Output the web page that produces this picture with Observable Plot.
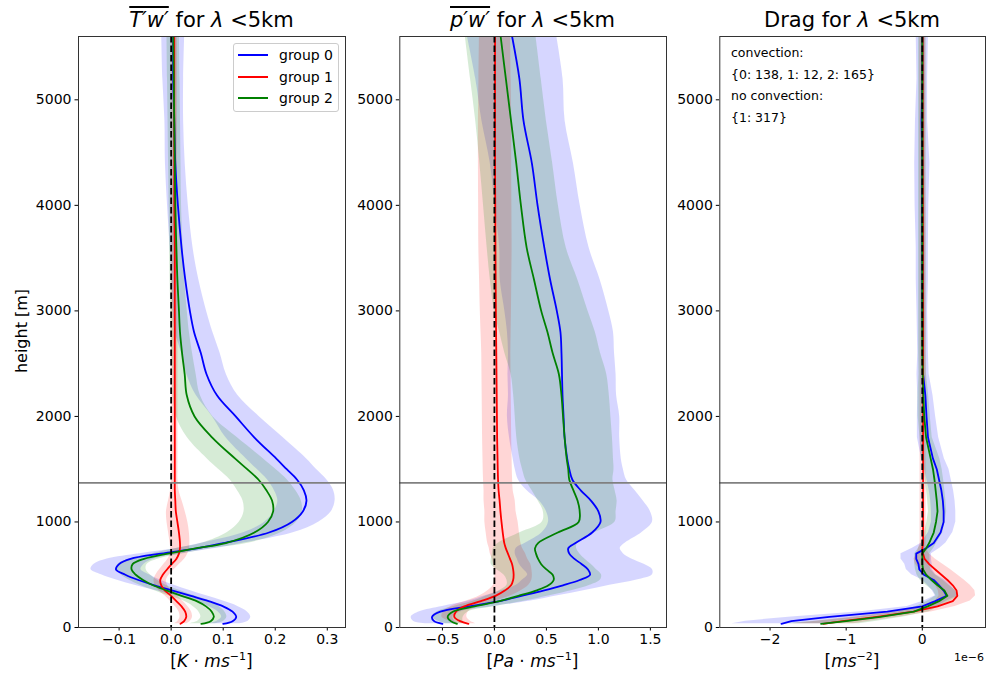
<!DOCTYPE html>
<html><head><meta charset="utf-8">
<script src="https://cdn.jsdelivr.net/npm/d3@7"></script>
<script src="https://cdn.jsdelivr.net/npm/@observablehq/plot@0.6"></script>
<style>
body{margin:0;background:#fff;font-family:"DejaVu Sans",sans-serif;}
#fig{position:relative;width:986px;height:673px;overflow:hidden;background:#fff;}
.abs{position:absolute;white-space:nowrap;line-height:1;color:#000;}
.panel{position:absolute;top:0;}
.title{font-size:21px;text-align:center;width:320px;}
.xl{font-size:17px;text-align:center;width:240px;}
.ov{text-decoration:overline;}
.legend{position:absolute;left:233px;top:43px;width:104px;height:67px;border:1px solid #cccccc;border-radius:3px;background:rgba(255,255,255,0.8);}
.lrow{position:absolute;left:4px;font-size:14px;line-height:1;white-space:nowrap;}
.lrow span.sw{display:inline-block;width:30px;height:0;border-top:2px solid;vertical-align:middle;margin-right:11px;position:relative;top:-1px;}
.ann{font-size:12.5px;}
</style></head><body><div id="fig"></div>
<script>
// ---------------- data ----------------
const heights = [35, 60, 100, 150, 200, 250, 300, 350, 400, 450,
  500, 550, 600, 650, 700, 750, 800, 900, 1000, 1100,
  1200, 1300, 1400, 1500, 1600, 1800, 2000, 2200, 2400, 2600,
  2800, 3000, 3300, 3600, 4000, 4400, 4800, 5200, 5600];

const groups = ["group 0", "group 1", "group 2"];
const groupColors = ["#0000ff", "#ff0000", "#008000"];

// Panel 1: T'w' [K m/s]
const tw_mean0 = [0.100, 0.118, 0.125, 0.118, 0.100, 0.072, 0.038, 0.003, -0.032, -0.063,
  -0.088, -0.106, -0.100, -0.078, -0.020, 0.050, 0.100, 0.188, 0.232, 0.253,
  0.260, 0.255, 0.242, 0.222, 0.202, 0.160, 0.124, 0.088, 0.068, 0.057,
  0.044, 0.036, 0.027, 0.020, 0.013, 0.008, 0.006, 0.004, 0.004];
const tw_sd0 = [0.030, 0.030, 0.028, 0.028, 0.028, 0.028, 0.030, 0.033, 0.038, 0.042,
  0.046, 0.048, 0.048, 0.045, 0.040, 0.038, 0.040, 0.048, 0.052, 0.055,
  0.055, 0.057, 0.057, 0.057, 0.058, 0.055, 0.045, 0.040, 0.038, 0.037,
  0.036, 0.032, 0.026, 0.022, 0.020, 0.019, 0.018, 0.020, 0.022];
const tw_mean1 = [0.018, 0.025, 0.029, 0.027, 0.020, 0.010, 0.000, -0.012, -0.019, -0.021,
  -0.016, -0.008, 0.001, 0.010, 0.015, 0.017, 0.017, 0.015, 0.012, 0.009,
  0.008, 0.007, 0.007, 0.007, 0.007, 0.007, 0.007, 0.007, 0.007, 0.007,
  0.007, 0.007, 0.007, 0.007, 0.006, 0.006, 0.006, 0.006, 0.006];
const tw_sd1 = [0.012, 0.012, 0.012, 0.012, 0.012, 0.012, 0.012, 0.012, 0.012, 0.012,
  0.013, 0.014, 0.015, 0.016, 0.017, 0.018, 0.019, 0.020, 0.020, 0.018,
  0.013, 0.008, 0.006, 0.006, 0.006, 0.006, 0.006, 0.006, 0.006, 0.006,
  0.006, 0.006, 0.006, 0.006, 0.006, 0.006, 0.006, 0.006, 0.006];
const tw_mean2 = [0.058, 0.076, 0.082, 0.078, 0.067, 0.049, 0.020, -0.008, -0.035, -0.054,
  -0.068, -0.076, -0.074, -0.052, -0.006, 0.047, 0.105, 0.160, 0.186, 0.196,
  0.194, 0.183, 0.168, 0.146, 0.123, 0.079, 0.045, 0.030, 0.026, 0.021,
  0.017, 0.015, 0.012, 0.010, 0.008, 0.007, 0.006, 0.005, 0.004];
const tw_sd2 = [0.025, 0.025, 0.025, 0.025, 0.025, 0.025, 0.025, 0.025, 0.025, 0.027,
  0.028, 0.028, 0.028, 0.028, 0.030, 0.035, 0.045, 0.052, 0.055, 0.056,
  0.056, 0.056, 0.055, 0.055, 0.054, 0.048, 0.035, 0.026, 0.022, 0.020,
  0.018, 0.016, 0.014, 0.013, 0.012, 0.012, 0.012, 0.012, 0.012];

// Panel 2: p'w' [Pa m/s]
const pw_mean0 = [-0.50, -0.58, -0.60, -0.52, -0.25, 0.05, 0.26, 0.47, 0.66, 0.82,
  0.92, 0.90, 0.84, 0.77, 0.72, 0.71, 0.78, 0.94, 1.02, 1.00,
  0.93, 0.83, 0.75, 0.72, 0.70, 0.675, 0.665, 0.655, 0.65, 0.645,
  0.635, 0.60, 0.535, 0.48, 0.415, 0.36, 0.28, 0.24, 0.17];
const pw_sd0 = [0.15, 0.20, 0.20, 0.20, 0.25, 0.30, 0.35, 0.40, 0.45, 0.55,
  0.60, 0.62, 0.60, 0.55, 0.52, 0.50, 0.48, 0.48, 0.50, 0.50,
  0.50, 0.52, 0.52, 0.52, 0.52, 0.53, 0.54, 0.52, 0.52, 0.51,
  0.51, 0.50, 0.48, 0.43, 0.41, 0.40, 0.40, 0.42, 0.43];
const pw_mean1 = [-0.25, -0.33, -0.385, -0.37, -0.29, -0.13, 0.01, 0.10, 0.16, 0.18,
  0.185, 0.18, 0.17, 0.15, 0.13, 0.11, 0.095, 0.08, 0.068, 0.058,
  0.05, 0.04, 0.035, 0.032, 0.03, 0.026, 0.024, 0.022, 0.02, 0.018,
  0.016, 0.014, 0.012, 0.01, 0.008, 0.006, 0.006, 0.006, 0.006];
const pw_sd1 = [0.08, 0.10, 0.12, 0.12, 0.13, 0.14, 0.15, 0.16, 0.17, 0.18,
  0.18, 0.18, 0.18, 0.17, 0.17, 0.16, 0.16, 0.16, 0.16, 0.15,
  0.15, 0.14, 0.14, 0.14, 0.14, 0.14, 0.14, 0.14, 0.14, 0.14,
  0.145, 0.15, 0.155, 0.16, 0.16, 0.16, 0.16, 0.155, 0.15];
const pw_mean2 = [-0.36, -0.42, -0.45, -0.40, -0.19, 0.05, 0.23, 0.40, 0.52, 0.57,
  0.56, 0.50, 0.45, 0.42, 0.40, 0.39, 0.42, 0.61, 0.81, 0.82,
  0.80, 0.76, 0.72, 0.71, 0.695, 0.675, 0.66, 0.645, 0.62, 0.56,
  0.51, 0.45, 0.38, 0.31, 0.255, 0.21, 0.16, 0.11, 0.06];
const pw_sd2 = [0.10, 0.12, 0.15, 0.15, 0.20, 0.25, 0.30, 0.35, 0.40, 0.45,
  0.47, 0.48, 0.48, 0.45, 0.42, 0.40, 0.38, 0.36, 0.35, 0.35,
  0.38, 0.40, 0.42, 0.44, 0.45, 0.46, 0.46, 0.46, 0.46, 0.46,
  0.46, 0.45, 0.42, 0.38, 0.36, 0.35, 0.34, 0.34, 0.34];

// Panel 3: Drag [1e-6 m/s^2]
const dr_mean0 = [-1.85, -1.72, -1.22, -0.46, 0.00, 0.17, 0.32, 0.28, 0.22, 0.15,
  0.02, -0.04, -0.05, -0.08, -0.08, 0.05, 0.15, 0.24, 0.28, 0.28,
  0.27, 0.25, 0.22, 0.19, 0.14, 0.075, 0.055, 0.04, 0.01, 0.01,
  0.005, 0.00, 0.00, 0.00, -0.005, 0.00, -0.01, 0.00, 0.00];
const dr_sd0 = [0.65, 0.60, 0.50, 0.35, 0.20, 0.15, 0.15, 0.15, 0.15, 0.15,
  0.16, 0.17, 0.18, 0.20, 0.20, 0.18, 0.16, 0.16, 0.16, 0.16,
  0.16, 0.16, 0.16, 0.16, 0.15, 0.14, 0.12, 0.10, 0.08, 0.07,
  0.07, 0.07, 0.08, 0.08, 0.09, 0.10, 0.08, 0.07, 0.08];
const dr_mean1 = [-1.30, -1.05, -0.60, -0.12, 0.20, 0.40, 0.46, 0.45, 0.40, 0.33,
  0.25, 0.17, 0.09, 0.03, 0.01, 0.00, 0.01, 0.01, 0.01, 0.01,
  0.01, 0.01, 0.01, 0.01, 0.01, 0.01, 0.01, 0.01, 0.01, 0.01,
  0.01, 0.01, 0.008, 0.008, 0.008, 0.006, 0.006, 0.005, 0.005];
const dr_sd1 = [0.40, 0.35, 0.30, 0.25, 0.23, 0.23, 0.24, 0.24, 0.23, 0.22,
  0.21, 0.20, 0.18, 0.14, 0.08, 0.05, 0.04, 0.04, 0.04, 0.04,
  0.04, 0.04, 0.04, 0.04, 0.04, 0.04, 0.04, 0.04, 0.04, 0.04,
  0.04, 0.04, 0.04, 0.04, 0.04, 0.04, 0.04, 0.04, 0.04];
const dr_mean2 = [-1.33, -1.00, -0.55, -0.11, 0.07, 0.22, 0.33, 0.29, 0.20, 0.12,
  0.05, 0.01, 0.00, 0.00, 0.00, 0.05, 0.09, 0.15, 0.18, 0.20,
  0.19, 0.175, 0.16, 0.14, 0.11, 0.05, 0.025, 0.013, 0.005, 0.00,
  0.00, 0.00, 0.00, 0.00, 0.00, 0.00, 0.00, 0.00, 0.00];
const dr_sd2 = [0.50, 0.40, 0.30, 0.20, 0.15, 0.15, 0.15, 0.15, 0.15, 0.15,
  0.12, 0.10, 0.10, 0.10, 0.10, 0.10, 0.10, 0.12, 0.12, 0.12,
  0.12, 0.12, 0.12, 0.12, 0.12, 0.08, 0.08, 0.07, 0.05, 0.05,
  0.05, 0.05, 0.05, 0.05, 0.05, 0.05, 0.05, 0.05, 0.05];

const pblHeight = 1370;          // grey horizontal line [m]
const yTicks = [0, 1000, 2000, 3000, 4000, 5000];
const twTicks = [-0.1, 0, 0.1, 0.2, 0.3];
const pwTicks = [-0.5, 0, 0.5, 1, 1.5];
const drTicks = [-2, -1, 0];
const annotationLines = ["convection:", "{0: 138, 1: 12, 2: 165}", "no convection:", "{1: 317}"];

// ---------------- drawing ----------------
const fig = document.getElementById("fig");

function rows(means, sds) {
  return heights.map((h, i) => ({h, m: means[i], lo: means[i] - sds[i], hi: means[i] + sds[i]}));
}

function panel({left, width, ml, mr, domain, ticks, fmt, series, curve}) {
  const marks = [];
  series.forEach(([means, sds], g) => {
    const d = rows(means, sds);
    marks.push(Plot.areaX(d, {y: "h", x1: "lo", x2: "hi", fill: groupColors[g], fillOpacity: 0.16, curve, clip: true}));
  });
  series.forEach(([means, sds], g) => {
    const d = rows(means, sds);
    marks.push(Plot.line(d, {x: "m", y: "h", stroke: groupColors[g], strokeWidth: 1.8, curve, clip: true}));
  });
  marks.push(Plot.ruleX([0], {stroke: "#000", strokeWidth: 1.8, strokeDasharray: "6.5,3"}));
  marks.push(Plot.ruleY([pblHeight], {stroke: "#808080", strokeWidth: 1.6}));
  marks.push(Plot.frame({stroke: "#333", strokeWidth: 1}));
  const svg = Plot.plot({
    width, height: 673,
    marginLeft: ml, marginRight: mr, marginTop: 36, marginBottom: 46,
    x: {domain, ticks, tickFormat: fmt, label: null, tickSize: 3.5, tickPadding: 3.5},
    y: {domain: [0, 5600], ticks: yTicks, tickFormat: d3.format("d"), label: null, tickSize: 3.5, tickPadding: 3.5},
    style: {background: "transparent", fontSize: "14px", fontFamily: "DejaVu Sans", color: "#000", overflow: "visible", maxWidth: "none"},
    marks
  });
  const wrap = document.createElement("div");
  wrap.className = "panel";
  wrap.style.left = left + "px";
  wrap.appendChild(svg);
  fig.appendChild(wrap);
}

panel({left: 0, width: 360, ml: 78, mr: 15, domain: [-0.178, 0.335], ticks: twTicks, fmt: d3.format(".1f"),
  series: [[tw_mean0, tw_sd0], [tw_mean1, tw_sd1], [tw_mean2, tw_sd2]], curve: "catmull-rom"});
panel({left: 360, width: 320, ml: 39.3, mr: 14, domain: [-0.91, 1.655], ticks: pwTicks, fmt: d3.format(".1f"),
  series: [[pw_mean0, pw_sd0], [pw_mean1, pw_sd1], [pw_mean2, pw_sd2]], curve: "catmull-rom"});
panel({left: 680, width: 306, ml: 39.3, mr: 1, domain: [-2.66, 0.83], ticks: drTicks, fmt: d3.format("d"),
  series: [[dr_mean0, dr_sd0], [dr_mean1, dr_sd1], [dr_mean2, dr_sd2]], curve: "linear"});

function addText(html, cls, x, y, extra) {
  const el = document.createElement("div");
  el.className = "abs " + cls;
  el.innerHTML = html;
  if (x !== null) el.style.left = x + "px";
  el.style.top = y + "px";
  if (extra) Object.assign(el.style, extra);
  fig.appendChild(el);
  return el;
}

// titles
addText('<span class="ov"><i>T′w′</i></span> for <i>λ</i> &lt;5km', "title", 211.5 - 160, 10);
addText('<span class="ov"><i>p′w′</i></span> for <i>λ</i> &lt;5km', "title", 532.5 - 160, 10);
addText('Drag for <i>λ</i> &lt;5km', "title", 852 - 160, 10);

// x labels
addText('[<i>K</i> · <i>ms</i><sup style="font-size:11px">−1</sup>]', "xl", 211.5 - 120, 651);
addText('[<i>Pa</i> · <i>ms</i><sup style="font-size:11px">−1</sup>]', "xl", 532.5 - 120, 651);
addText('[<i>ms</i><sup style="font-size:11px">−2</sup>]', "xl", 852 - 120, 651);
addText('1e−6', "", null, 652, {fontSize: "11px", right: "2px"});

// y label
addText('height [m]', "", 22, 331, {fontSize: "16px", transform: "translate(-50%,-50%) rotate(-90deg)"});

// legend
const lg = document.createElement("div");
lg.className = "legend";
groups.forEach((g, i) => {
  const r = document.createElement("div");
  r.className = "lrow";
  r.style.top = (4 + i * 21.7) + "px";
  r.innerHTML = `<span class="sw" style="border-color:${groupColors[i]}"></span>${g}`;
  lg.appendChild(r);
});
fig.appendChild(lg);

// annotation (panel 3)
annotationLines.forEach((t, i) => addText(t, "ann", 731, 47 + i * 21.7));
</script></body></html>
